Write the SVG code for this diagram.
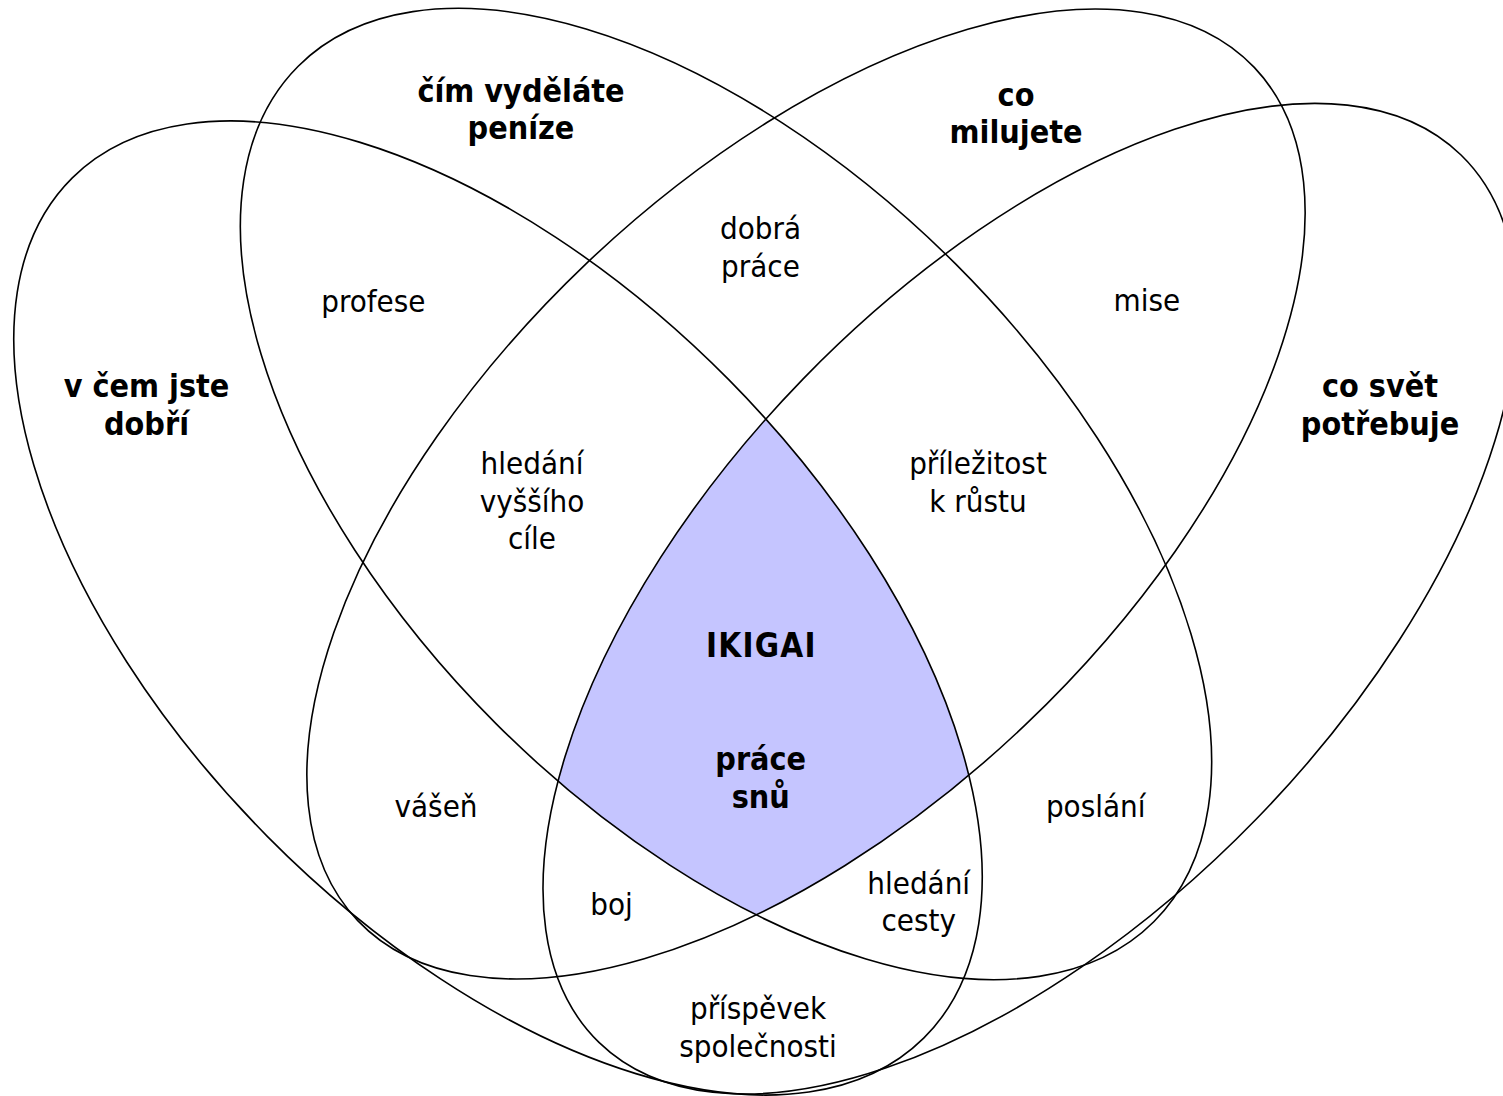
<svg xmlns="http://www.w3.org/2000/svg" width="1503" height="1096" viewBox="0 0 1503 1096">
<style>
.set{fill:none;stroke:#000;stroke-width:1.6}
text{font-family:'DejaVu Sans Condensed','DejaVu Sans',sans-serif;font-size:31px;text-anchor:middle;fill:#000}
.b{font-weight:bold;font-size:32px}
.wide{letter-spacing:1.2px;font-size:33px}
</style>
<defs>
<clipPath id="clipB"><ellipse rx="605" ry="325" transform="translate(726 494) rotate(45)"/></clipPath>
<clipPath id="clipC"><ellipse rx="618.8" ry="318.4" transform="translate(806 494) rotate(-43.58)"/></clipPath>
<clipPath id="clipD"><ellipse rx="618.6" ry="315.9" transform="translate(1030 598.7) rotate(-45.83)"/></clipPath>
</defs>
<rect width="1503" height="1096" fill="#fff"/>
<g id="ikigai-region" clip-path="url(#clipB)"><g clip-path="url(#clipC)"><g clip-path="url(#clipD)"><ellipse rx="605.2" ry="324.6" transform="translate(498 608) rotate(45.3)" fill="#c5c5ff"/></g></g></g>
<g id="set-dobri">
<ellipse class="set" rx="605.2" ry="324.6" transform="translate(498 608) rotate(45.3)"/>
<text class="b" x="146.5" y="397">v čem jste</text>
<text class="b" x="146.5" y="434.5">dobří</text>
</g>
<g id="set-penize">
<ellipse class="set" rx="605" ry="325" transform="translate(726 494) rotate(45)"/>
<text class="b" x="521" y="101.5">čím vyděláte</text>
<text class="b" x="521" y="139">peníze</text>
</g>
<g id="set-milujete">
<ellipse class="set" rx="618.8" ry="318.4" transform="translate(806 494) rotate(-43.58)"/>
<text class="b" x="1016" y="105.5">co</text>
<text class="b" x="1016" y="143">milujete</text>
</g>
<g id="set-svet">
<ellipse class="set" rx="618.6" ry="315.9" transform="translate(1030 598.7) rotate(-45.83)"/>
<text class="b" x="1380" y="397">co svět</text>
<text class="b" x="1380" y="434.5">potřebuje</text>
</g>
<g id="region-profese"><text x="373.3" y="312">profese</text></g>
<g id="region-dobra-prace"><text x="760.5" y="239">dobrá</text><text x="760.5" y="276.5">práce</text></g>
<g id="region-mise"><text x="1146.8" y="310.5">mise</text></g>
<g id="region-hledani-cile"><text x="532" y="474">hledání</text><text x="532" y="511.5">vyššího</text><text x="532" y="549">cíle</text></g>
<g id="region-prilezitost"><text x="978" y="474">příležitost</text><text x="978" y="511.5">k růstu</text></g>
<g id="region-ikigai"><text class="b wide" x="761.4" y="657">IKIGAI</text><text class="b" x="760.7" y="770">práce</text><text class="b" x="760.7" y="807.5">snů</text></g>
<g id="region-vasen"><text x="436" y="817">vášeň</text></g>
<g id="region-poslani"><text x="1095.7" y="817">poslání</text></g>
<g id="region-boj"><text x="611.5" y="915">boj</text></g>
<g id="region-hledani-cesty"><text x="918.7" y="893.5">hledání</text><text x="918.7" y="931">cesty</text></g>
<g id="region-prispevek"><text x="758" y="1019.3">příspěvek</text><text x="758" y="1057">společnosti</text></g>
</svg>
